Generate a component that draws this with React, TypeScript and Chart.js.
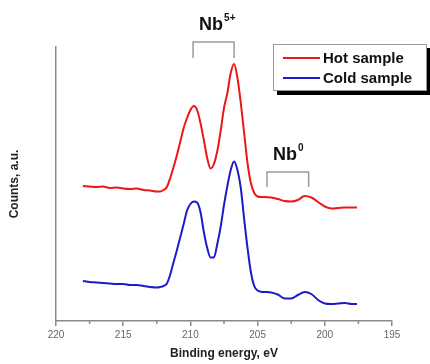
import React, { useEffect, useRef } from "react";
import { Chart, registerables } from "chart.js";

Chart.register(...registerables);

// Binding energy grid (eV)
const energy = [
  218.0, 217.5, 217.0, 216.5, 216.0, 215.5, 215.0, 214.5, 214.0, 213.5, 213.0, 212.5,
  212.25, 212.0, 211.75, 211.5, 211.25, 211.0, 210.75, 210.5, 210.25, 210.0, 209.75, 209.5,
  209.25, 209.0, 208.75, 208.5, 208.25, 208.0, 207.75, 207.5, 207.25, 207.0, 206.75, 206.5,
  206.25, 206.0, 205.75, 205.5, 205.25, 205.0, 204.75,
  204.5, 204.0, 203.5, 203.0, 202.5, 202.0, 201.5, 201.0, 200.5, 200.0, 199.5, 199.0, 198.5, 198.0, 197.6,
];

// Hot sample counts (a.u., offset)
const hotCounts = [
  135, 134.5, 134, 134.5, 133, 133.5, 132.5, 132, 132.5, 131, 130.5, 129.5,
  129.5, 131, 134, 143, 154, 166, 179.5, 193, 203, 211, 215, 211,
  198, 181, 163, 152.5, 157, 170, 190, 213, 228, 248, 257, 243,
  218, 188, 158, 138, 128, 124.5, 124,
  124, 123.5, 122, 120, 119.5, 121, 125, 123.5, 119, 114.5, 112.5, 113, 113.5, 113.5, 113.5,
];

// Cold sample counts (a.u.)
const coldCounts = [
  40, 39, 38.5, 38, 37.5, 37, 37, 36, 36, 35, 34, 33.5,
  34, 35, 37.5, 46.5, 59, 71, 84, 97, 110.5, 117, 119.5, 118.5,
  109, 89, 73, 63.5, 63.5, 77, 94, 116, 135, 151, 159.5, 151,
  133, 102, 73, 49, 35, 30.5, 29.3,
  29, 28.5, 26.5, 22.5, 22.5, 26, 29, 27, 21, 17.5, 17, 17.5, 18, 17, 17,
];

const seriesNames = ["Hot sample", "Cold sample"];
const seriesColors = ["#ee1616", "#1c1cc6"];
const minorTicks = [217.5, 212.5, 207.5, 202.5, 197.5];

const peakLabels = [
  { base: "Nb", sup: "5+", from: 209.8, to: 206.75, top: 279, leg: 16 },
  { base: "Nb", sup: "0", from: 204.3, to: 201.2, top: 149, leg: 15 },
];

const FONT = "'Liberation Sans', Arial, Helvetica, sans-serif";

const overlayPlugin = {
  id: "overlay",
  afterDraw(chart: any) {
    const ctx = chart.ctx;
    const xs = chart.scales.x;
    const ys = chart.scales.y;
    ctx.save();

    // minor ticks
    ctx.strokeStyle = "#8a8a8a";
    ctx.lineWidth = 1.5;
    for (const t of minorTicks) {
      const px = xs.getPixelForValue(t);
      ctx.beginPath();
      ctx.moveTo(px, chart.chartArea.bottom);
      ctx.lineTo(px, chart.chartArea.bottom + 3);
      ctx.stroke();
    }

    // peak brackets and labels
    for (const p of peakLabels) {
      const x1 = xs.getPixelForValue(p.from);
      const x2 = xs.getPixelForValue(p.to);
      const yt = ys.getPixelForValue(p.top);
      ctx.strokeStyle = "#9a9a9a";
      ctx.lineWidth = 1.5;
      ctx.beginPath();
      ctx.moveTo(x1, yt + p.leg);
      ctx.lineTo(x1, yt);
      ctx.lineTo(x2, yt);
      ctx.lineTo(x2, yt + p.leg);
      ctx.stroke();

      ctx.fillStyle = "#111";
      ctx.textBaseline = "alphabetic";
      ctx.textAlign = "left";
      ctx.font = `bold 18px ${FONT}`;
      const tx = x1 + 6;
      const ty = yt - 12;
      ctx.fillText(p.base, tx, ty);
      const w = ctx.measureText(p.base).width;
      ctx.font = `bold 10px ${FONT}`;
      ctx.fillText(p.sup, tx + w + 1, ty - 9);
    }

    // legend box with shadow
    const bx = chart.width - 157;
    const by = 44;
    const bw = 154;
    const bh = 47;
    ctx.fillStyle = "#000";
    ctx.fillRect(bx + 4, by + 4, bw, bh);
    ctx.fillStyle = "#fff";
    ctx.fillRect(bx, by, bw, bh);
    ctx.strokeStyle = "#9a9a9a";
    ctx.lineWidth = 1;
    ctx.strokeRect(bx + 0.5, by + 0.5, bw - 1, bh - 1);

    seriesNames.forEach((name, i) => {
      const ly = by + 14 + i * 20;
      ctx.strokeStyle = seriesColors[i];
      ctx.lineWidth = 2;
      ctx.beginPath();
      ctx.moveTo(bx + 10, ly);
      ctx.lineTo(bx + 47, ly);
      ctx.stroke();
      ctx.fillStyle = "#111";
      ctx.font = `bold 15px ${FONT}`;
      ctx.textBaseline = "middle";
      ctx.textAlign = "left";
      ctx.fillText(name, bx + 50, ly + 1);
    });

    ctx.restore();
  },
};

export default function App() {
  const ref = useRef<HTMLCanvasElement | null>(null);

  useEffect(() => {
    if (!ref.current) return;
    Chart.defaults.font.family = FONT;
    const chart = new Chart(ref.current, {
      type: "line",
      data: {
        datasets: [
          {
            label: seriesNames[0],
            data: energy.map((e, i) => ({ x: e, y: hotCounts[i] })),
            borderColor: seriesColors[0],
            borderWidth: 2,
            pointRadius: 0,
            cubicInterpolationMode: "monotone",
            fill: false,
          },
          {
            label: seriesNames[1],
            data: energy.map((e, i) => ({ x: e, y: coldCounts[i] })),
            borderColor: seriesColors[1],
            borderWidth: 2,
            pointRadius: 0,
            cubicInterpolationMode: "monotone",
            fill: false,
          },
        ],
      },
      options: {
        responsive: false,
        animation: false,
        layout: { padding: { top: 47, right: 38, left: 0, bottom: 0 } },
        plugins: {
          legend: { display: false },
          tooltip: { enabled: false },
        },
        scales: {
          x: {
            type: "linear",
            min: 195,
            max: 220,
            reverse: true,
            afterFit: (s: any) => {
              s.height = 43;
            },
            ticks: {
              stepSize: 5,
              color: "#666",
              font: { size: 10 },
              padding: 3,
              maxRotation: 0,
            },
            grid: {
              display: true,
              drawOnChartArea: false,
              drawTicks: true,
              tickLength: 5,
              color: "#8a8a8a",
              lineWidth: 1.5,
            },
            border: { display: true, color: "#8a8a8a", width: 1.5 },
            title: {
              display: true,
              text: "Binding energy, eV",
              color: "#222",
              font: { size: 12, weight: "bold" },
              padding: { top: 0, bottom: 3 },
            },
          },
          y: {
            type: "linear",
            min: 0,
            max: 274,
            afterFit: (s: any) => {
              s.width = 56;
            },
            ticks: { display: false },
            grid: { display: false },
            border: { display: true, color: "#8a8a8a", width: 1.5 },
            title: {
              display: true,
              text: "Counts, a.u.",
              color: "#222",
              font: { size: 12, weight: "bold" },
              padding: { top: 7, bottom: 0 },
            },
          },
        },
      },
      plugins: [overlayPlugin],
    });
    return () => chart.destroy();
  }, []);

  return (
    <div style={{ position: "fixed", left: 0, top: 0, width: 430, height: 364, background: "#fff" }}>
      <canvas ref={ref} width={430} height={364} />
    </div>
  );
}
